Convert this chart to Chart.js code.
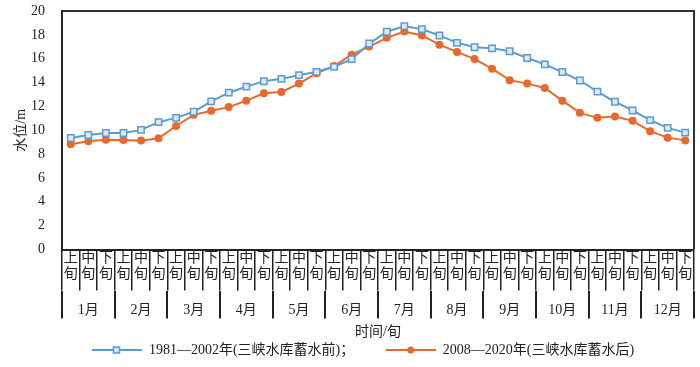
<!DOCTYPE html>
<html>
<head>
<meta charset="utf-8">
<script src="https://cdn.jsdelivr.net/npm/chart.js@4"></script>
<style>
  html, body { margin: 0; padding: 0; background: #fff; }
  canvas { display: block; }
</style>
</head>
<body>
<canvas id="myChart" width="700" height="367"></canvas>
<script>
const months = ['1月', '2月', '3月', '4月', '5月', '6月', '7月', '8月', '9月', '10月', '11月', '12月'];
const xun = ['上旬', '中旬', '下旬'];
const yTicks = [0, 2, 4, 6, 8, 10, 12, 14, 16, 18, 20];

// 1981—2002 (before impoundment)
const before = [9.35, 9.6, 9.77, 9.77, 10.03, 10.68, 11.04, 11.55, 12.42, 13.15, 13.66, 14.11,
  14.31, 14.62, 14.9, 15.32, 15.97, 17.27, 18.26, 18.73, 18.48, 17.95, 17.33, 16.96,
  16.87, 16.62, 16.06, 15.52, 14.88, 14.17, 13.24, 12.39, 11.66, 10.85, 10.2, 9.8];
// 2008—2020 (after impoundment)
const after = [8.82, 9.07, 9.21, 9.18, 9.13, 9.32, 10.36, 11.29, 11.63, 11.94, 12.48, 13.1,
  13.21, 13.91, 14.79, 15.38, 16.34, 17.02, 17.75, 18.28, 17.95, 17.18, 16.57, 15.97,
  15.16, 14.2, 13.91, 13.55, 12.48, 11.46, 11.04, 11.16, 10.79, 9.92, 9.38, 9.15];

const seriesNames = ['1981—2002年(三峡水库蓄水前)；', '2008—2020年(三峡水库蓄水后)'];
const blue = '#5b9bd5';
const orange = '#e9692c';
const ink = '#222';
const fontFam = '"Liberation Serif", "Noto Sans CJK SC", serif';

const xunLabels = months.flatMap(() => xun.map(s => s.split('')));

// legend sample: line with marker (transparent lead-in keeps the gap between items)
function legendSample(color, square) {
  const c = document.createElement('canvas');
  c.width = 79; c.height = 10;
  const g = c.getContext('2d');
  g.strokeStyle = color; g.lineWidth = 2;
  g.beginPath(); g.moveTo(29, 5); g.lineTo(79, 5); g.stroke();
  if (square) {
    g.fillStyle = '#dce9f6'; g.lineWidth = 1.5;
    g.fillRect(50.5, 2, 6, 6); g.strokeRect(50.5, 2, 6, 6);
  } else {
    g.fillStyle = color;
    g.beginPath(); g.arc(54, 5, 3.5, 0, Math.PI * 2); g.fill();
  }
  return c;
}
const samples = [legendSample(blue, true), legendSample(orange, false)];

const frame = {
  id: 'frame',
  beforeDatasetsDraw(chart) {
    const a = chart.chartArea, ctx = chart.ctx;
    ctx.save();
    ctx.strokeStyle = '#333'; ctx.lineWidth = 2;
    ctx.beginPath();
    ctx.moveTo(a.left, a.top); ctx.lineTo(a.right, a.top); ctx.lineTo(a.right, a.bottom);
    ctx.stroke();
    ctx.restore();
  }
};

const data = {
  labels: xunLabels,
  datasets: [{
    label: seriesNames[0],
    data: before,
    borderColor: blue,
    backgroundColor: '#dce9f6',
    borderWidth: 2,
    pointStyle: 'rect',
    pointRadius: 4.5,
    pointBorderWidth: 1.5,
    pointBorderColor: blue,
    pointBackgroundColor: '#dce9f6',
    tension: 0
  }, {
    label: seriesNames[1],
    data: after,
    borderColor: orange,
    backgroundColor: orange,
    borderWidth: 2,
    pointStyle: 'circle',
    pointRadius: 4,
    pointBorderWidth: 0,
    pointBackgroundColor: orange,
    tension: 0
  }]
};

const config = {
  type: 'line',
  data: data,
  plugins: [frame],
  options: {
    responsive: false,
    animation: false,
    layout: { padding: { top: 11, right: 3, left: 0, bottom: 0 } },
    plugins: {
      tooltip: { enabled: false },
      legend: {
        position: 'bottom',
        labels: {
          usePointStyle: true,
          pointStyleWidth: 79,
          padding: 2.5,
          color: ink,
          font: { family: fontFam, size: 14 },
          generateLabels: (chart) => chart.data.datasets.map((ds, i) => ({
            text: ds.label,
            pointStyle: samples[i],
            fillStyle: ds.borderColor,
            strokeStyle: ds.borderColor,
            lineWidth: 0,
            hidden: false,
            datasetIndex: i,
            fontColor: ink
          }))
        }
      }
    },
    scales: {
      x: {
        type: 'category',
        offset: true,
        weight: 0,
        afterFit: s => { s.height = 41; },
        border: { display: true, color: ink, width: 2 },
        grid: { display: true, offset: true, drawOnChartArea: false, drawTicks: true, tickLength: 41, color: ink, lineWidth: 1.5 },
        ticks: { autoSkip: false, maxRotation: 0, minRotation: 0, padding: -39.7, color: ink, font: { family: fontFam, size: 14, lineHeight: 1.1 } }
      },
      x2: {
        type: 'category',
        position: 'bottom',
        labels: months,
        offset: true,
        weight: 1,
        afterFit: s => { s.height = 50; },
        border: { display: false },
        grid: { display: true, offset: true, drawOnChartArea: false, drawTicks: true, tickLength: 28, color: ink, lineWidth: 2 },
        ticks: { autoSkip: false, maxRotation: 0, minRotation: 0, padding: -16.4, color: ink, font: { family: fontFam, size: 14 } },
        title: { display: true, text: '时间/旬', color: ink, font: { family: fontFam, size: 14 }, padding: { top: 0, bottom: 0 } }
      },
      y: {
        min: 0,
        max: 20,
        afterFit: s => { s.width = 62; },
        afterBuildTicks: s => { s.ticks = yTicks.map(v => ({ value: v })); },
        border: { display: true, color: ink, width: 2 },
        grid: { display: true, drawOnChartArea: false, drawTicks: true, tickLength: 15, color: 'rgba(0,0,0,0)' },
        ticks: { padding: 2, color: ink, font: { family: fontFam, size: 14 } },
        title: { display: true, text: '水位/m', color: ink, font: { family: fontFam, size: 14 }, padding: { top: 12.5, bottom: 0 } }
      }
    }
  }
};

const myChart = new Chart(document.getElementById('myChart'), config);
</script>
</body>
</html>
